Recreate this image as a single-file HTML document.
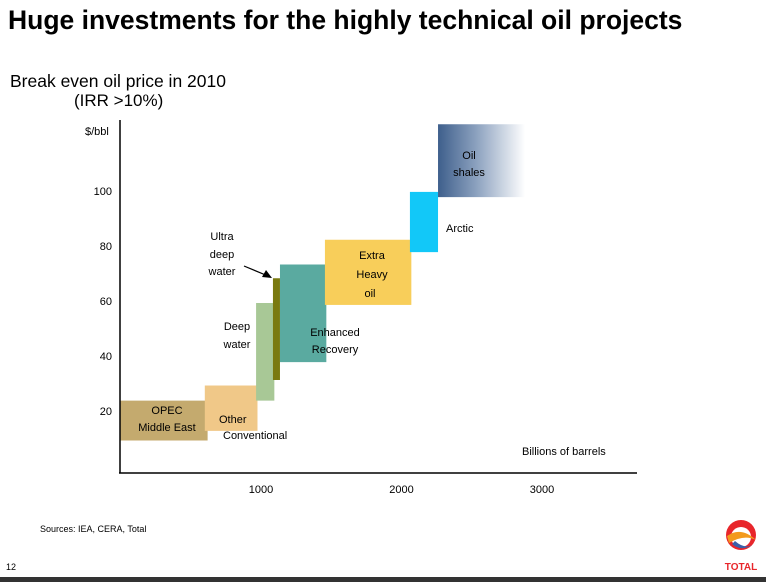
<!DOCTYPE html>
<html><head><meta charset="utf-8"><style>
body{margin:0;background:#fff;width:766px;height:582px;overflow:hidden;font-family:"Liberation Sans",sans-serif}
</style></head><body>
<svg width="766" height="582" viewBox="0 0 766 582" xmlns="http://www.w3.org/2000/svg" font-family="Liberation Sans, sans-serif">
<defs><linearGradient id="shale" x1="0" x2="1" y1="0" y2="0"><stop offset="0" stop-color="#3e5f8c"/><stop offset="0.45" stop-color="#8ea3c0"/><stop offset="1" stop-color="#ffffff"/></linearGradient></defs>
<text x="8" y="29" font-size="26.5" font-weight="bold" fill="#000">Huge investments for the highly technical oil projects</text>
<text x="10" y="87" font-size="17.5">Break even oil price in 2010</text>
<text x="74" y="106" font-size="17">(IRR &gt;10%)</text>
<text x="85" y="135" font-size="11">$/bbl</text>
<g id="marks"></g>
<line x1="120" y1="120" x2="120" y2="473" stroke="#000" stroke-width="1.5"/>
<line x1="119" y1="473" x2="637" y2="473" stroke="#000" stroke-width="1.5"/>
<g id="ticks" font-size="11"></g>
<text x="522" y="455" font-size="11">Billions of barrels</text>
<g font-size="11" fill="#000">
<text x="167" y="414" text-anchor="middle">OPEC</text>
<text x="167" y="431" text-anchor="middle">Middle East</text>
<text x="219" y="423">Other</text>
<text x="223" y="439">Conventional</text>
<text x="237" y="330" text-anchor="middle">Deep</text>
<text x="237" y="348" text-anchor="middle">water</text>
<text x="222" y="240" text-anchor="middle">Ultra</text>
<text x="222" y="258" text-anchor="middle">deep</text>
<text x="222" y="275" text-anchor="middle">water</text>
<text x="335" y="336" text-anchor="middle">Enhanced</text>
<text x="335" y="353" text-anchor="middle">Recovery</text>
<text x="372" y="259" text-anchor="middle">Extra</text>
<text x="372" y="278" text-anchor="middle">Heavy</text>
<text x="370" y="297" text-anchor="middle">oil</text>
<text x="446" y="232">Arctic</text>
<text x="469" y="159" text-anchor="middle">Oil</text>
<text x="469" y="176" text-anchor="middle">shales</text>
</g>
<line x1="244" y1="266" x2="268" y2="276" stroke="#000" stroke-width="1.2"/>
<polygon points="272,278 262,277 266,270" fill="#000"/>
<text x="40" y="532" font-size="9">Sources: IEA, CERA, Total</text>
<text x="6" y="570" font-size="9">12</text>
<g>
<circle cx="741" cy="535" r="15" fill="#e8262b"/>
<circle cx="741" cy="537" r="10" fill="#fff"/>
<path d="M727 536 Q741 526 756 540 Q744 534 729 543 Z" fill="#f39a1e"/>
<path d="M732 544 Q741 552 752 545 Q744 549 735 541 Z" fill="#3a5fa8"/>
<text x="741" y="570" font-size="10" font-weight="bold" fill="#e8262b" text-anchor="middle">TOTAL</text>
</g>
<rect x="0" y="577" width="766" height="5" fill="#333"/>
</svg>
<script>
const names=["opec","other-conventional","deep-water","ultra-deep-water","enhanced-recovery","extra-heavy-oil","arctic","oil-shales"];
const xStart=[0,600,965,1085,1135,1455,2060,2260];
const xEnd=[620,975,1095,1135,1465,2070,2260,2880];
const priceLow=[10,13.5,24.5,32,38.5,59.3,78.5,98.5];
const priceHigh=[24.5,30,60,69,74,83,100.4,125];
const colors=["#c4aa6e","#f0c888","#a8c896","#7a7a10","#5aaaa0","#f8ce5a","#12c8f8","url(#shale)"];
const yTicks=[20,40,60,80,100];
const xTicks=[1000,2000,3000];
const X=v=>120.5+v*0.1405, Y=v=>468-v*2.75;
const ns="http://www.w3.org/2000/svg";
const g=document.getElementById("marks");
names.forEach((n,i)=>{
 const r=document.createElementNS(ns,"rect");
 r.setAttribute("x",X(xStart[i]));r.setAttribute("width",X(xEnd[i])-X(xStart[i]));
 r.setAttribute("y",Y(priceHigh[i]));r.setAttribute("height",Y(priceLow[i])-Y(priceHigh[i]));
 r.setAttribute("fill",colors[i]);
 
 
 g.appendChild(r);
});
const t=document.getElementById("ticks");
yTicks.forEach(v=>{
 const e=document.createElementNS(ns,"text");
 e.setAttribute("x",112);e.setAttribute("y",Y(v)+2);e.setAttribute("text-anchor","end");e.textContent=v;
 
 
 t.appendChild(e);
});
xTicks.forEach(v=>{
 const e=document.createElementNS(ns,"text");
 e.setAttribute("x",X(v));e.setAttribute("y",493);e.setAttribute("text-anchor","middle");e.textContent=v;
 
 
 t.appendChild(e);
});
</script>
</body></html>
